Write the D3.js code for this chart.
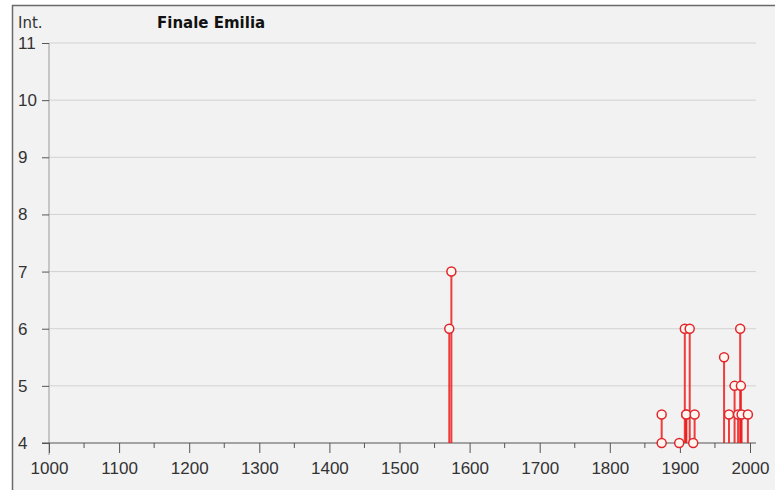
<!DOCTYPE html>
<html>
<head>
<meta charset="utf-8">
<script src="https://cdn.jsdelivr.net/npm/d3@7"></script>
<style>
  body { margin: 0; background: #ffffff; }
  svg { display: block; }
</style>
</head>
<body>
<div id="chart"></div>
<script>
// earthquake years and felt intensities at Finale Emilia
var years       = [1571, 1574, 1874, 1874, 1899, 1907, 1909, 1909, 1914, 1919, 1921, 1963, 1970, 1978, 1983, 1986, 1987, 1988, 1997];
var intensities = [6,    7,    4.5,  4,    4,    6,    4.5,  4.5,  6,    4,    4.5,  5.5,  4.5,  5,    4.5,  6,    5,    4.5,  4.5];
var yTicks = [4, 5, 6, 7, 8, 9, 10, 11];
var xTicks = [1000, 1100, 1200, 1300, 1400, 1500, 1600, 1700, 1800, 1900, 2000];
var xMinor = [1050, 1150, 1250, 1350, 1450, 1550, 1650, 1750, 1850, 1950];

function init() {
    var svgWidth = 775, svgHeight = 490;
    var left = 49, right = 750, top = 43, bottom = 443;

    var svg = d3.select("#chart").append("svg")
        .attr("width", svgWidth)
        .attr("height", svgHeight)
        .style("font-family", "'DejaVu Sans', Verdana, sans-serif");

    // panel background and frame
    svg.append("rect")
        .attr("x", 12.5).attr("y", 5.5)
        .attr("width", 800).attr("height", 600)
        .attr("fill", "#f2f2f2")
        .attr("stroke", "#6a6a6a")
        .attr("stroke-width", 1.5);

    var xScale = d3.scaleLinear().domain([1000, 2000]).range([left, right]);
    var yScale = d3.scaleLinear().domain([4, 11]).range([bottom, top]);

    // horizontal grid lines
    svg.append("g").selectAll("line")
        .data(yTicks.slice(1))
        .enter().append("line")
        .attr("x1", left).attr("x2", 756)
        .attr("y1", d => yScale(d)).attr("y2", d => yScale(d))
        .attr("stroke", "#d2d2d2")
        .attr("stroke-width", 1);

    // y axis
    var yAxis = svg.append("g")
        .attr("transform", "translate(" + left + ",0)")
        .call(d3.axisLeft(yScale).tickValues(yTicks).tickSize(7).tickFormat(d3.format("d")));
    yAxis.select(".domain").attr("stroke", "#9a9a9a").attr("d", "M0," + (bottom + 12) + "V" + top);
    yAxis.selectAll(".tick line").attr("stroke", "#555");
    yAxis.selectAll(".tick text")
        .attr("x", -31).attr("text-anchor", "start")
        .attr("font-size", 17).attr("fill", "#333");

    // x axis
    var xAxis = svg.append("g")
        .attr("transform", "translate(0," + bottom + ")")
        .call(d3.axisBottom(xScale).tickValues(xTicks).tickSize(10).tickPadding(9).tickFormat(d3.format("d")));
    xAxis.select(".domain").attr("stroke", "#555").attr("d", "M42,0H756");
    xAxis.selectAll(".tick line").attr("stroke", "#555");
    xAxis.selectAll(".tick text").attr("font-size", 17).attr("fill", "#333");

    svg.append("g").selectAll("line")
        .data(xMinor)
        .enter().append("line")
        .attr("x1", d => xScale(d)).attr("x2", d => xScale(d))
        .attr("y1", bottom).attr("y2", bottom + 5)
        .attr("stroke", "#555");

    // stems
    var data = years.map((y, i) => ({ year: y, int: intensities[i] }));
    svg.append("g").selectAll("line")
        .data(data)
        .enter().append("line")
        .attr("x1", d => xScale(d.year)).attr("x2", d => xScale(d.year))
        .attr("y1", yScale(4)).attr("y2", d => yScale(d.int))
        .attr("stroke", "#ee1c1c")
        .attr("stroke-opacity", 0.85)
        .attr("stroke-width", 2);

    // markers
    svg.append("g").selectAll("circle")
        .data(data)
        .enter().append("circle")
        .attr("cx", d => xScale(d.year))
        .attr("cy", d => yScale(d.int))
        .attr("r", 4.5)
        .attr("fill", "#fff6f0")
        .attr("stroke", "#e0262c")
        .attr("stroke-width", 1.5);

    // labels
    svg.append("text")
        .attr("x", 18).attr("y", 28)
        .attr("font-size", 15).attr("fill", "#333")
        .text("Int.");

    svg.append("text")
        .attr("x", 157).attr("y", 28)
        .attr("font-size", 15).attr("font-weight", "bold").attr("fill", "#111")
        .text("Finale Emilia");
}
window.onload = init;
</script>
</body>
</html>
